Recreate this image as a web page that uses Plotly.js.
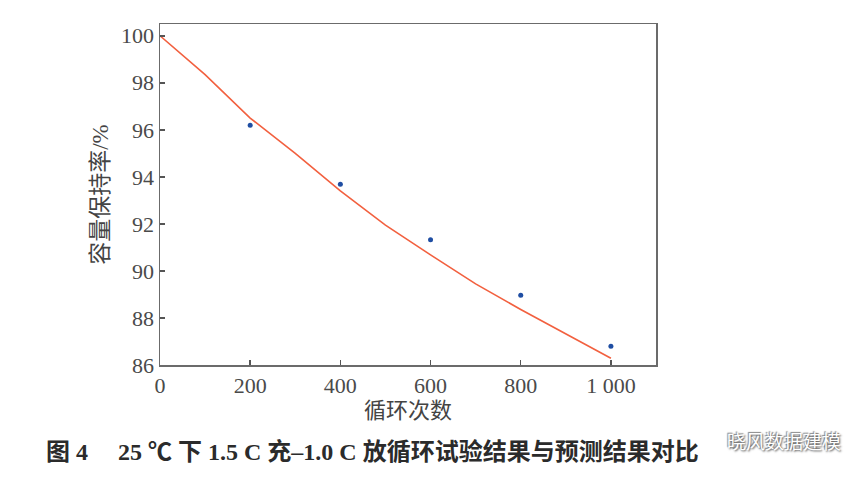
<!DOCTYPE html>
<html>
<head>
<meta charset="utf-8">
<script src="https://cdn.plot.ly/plotly-3.0.1.min.js"></script>
<style>html,body{margin:0;padding:0;background:#fff;}#chart{width:864px;height:485px;}</style>
</head>
<body>
<div id="chart"></div>
<script>
// Test data (measured)
const testCycles = [200, 400, 600, 800, 1000];
const testRetention = [96.19, 93.69, 91.33, 88.97, 86.80];
// Predicted curve
const predCycles = [0, 100, 200, 300, 400, 500, 600, 700, 800, 900, 1000];
const predRetention = [100, 98.35, 96.5, 95.0, 93.4, 91.95, 90.68, 89.45, 88.36, 87.32, 86.29];
// Tick labels
const xTickVals = [0, 200, 400, 600, 800, 1000];
const xTickText = ['0', '200', '400', '600', '800', '1 000'];
const yTickVals = [86, 88, 90, 92, 94, 96, 98, 100];

const serif = 'Liberation Serif, DejaVu Serif, Noto Sans CJK SC, serif';
const cjk = 'Liberation Serif, Noto Sans CJK SC, sans-serif';

const traces = [
  {
    x: predCycles, y: predRetention, type: 'scatter', mode: 'lines',
    line: {color: '#f2603f', width: 1.6}, hoverinfo: 'skip', showlegend: false
  },
  {
    x: testCycles, y: testRetention, type: 'scatter', mode: 'markers',
    marker: {color: '#1f4ea3', size: 5}, showlegend: false
  }
];

const axisCommon = {
  showline: true, mirror: true, linecolor: '#6b6b6b', linewidth: 1.5,
  showgrid: false, zeroline: false,
  ticks: 'inside', ticklen: 5, tickwidth: 1.5, tickcolor: '#555',
  tickfont: {family: serif, size: 22, color: '#4a4a4a'}
};

const layout = {
  width: 864, height: 485,
  margin: {l: 160, r: 208, t: 24, b: 120},
  paper_bgcolor: '#ffffff', plot_bgcolor: '#ffffff',
  xaxis: Object.assign({}, axisCommon, {
    range: [0, 1100], tickvals: xTickVals, ticktext: xTickText,
    title: {text: '循环次数', font: {family: cjk, size: 22, color: '#444'}, standoff: 2}
  }),
  yaxis: Object.assign({}, axisCommon, {
    range: [86, 100.5], tickvals: yTickVals,
    title: {text: '容量保持率/%', font: {family: cjk, size: 23, color: '#444'}, standoff: 6}
  }),
  annotations: [
    {
      xref: 'paper', yref: 'paper', x: -0.234, y: -0.255, xanchor: 'left', yanchor: 'middle',
      showarrow: false,
      text: '<b>图 4　 25 ℃ 下 1.5 C 充–1.0 C 放循环试验结果与预测结果对比</b>',
      font: {family: cjk, size: 24, color: '#2b2b2b'}
    },
    {
      xref: 'paper', yref: 'paper', x: 1.14, y: -0.22, xanchor: 'left', yanchor: 'middle',
      showarrow: false, text: '晓风数据建模',
      font: {family: 'Noto Sans CJK SC, sans-serif', size: 19, color: '#ffffff', shadow: '1px 1px 2px #555, -1px -1px 1px #888'}
    }
  ]
};

Plotly.newPlot('chart', traces, layout, {displayModeBar: false, staticPlot: true});
</script>
</body>
</html>
